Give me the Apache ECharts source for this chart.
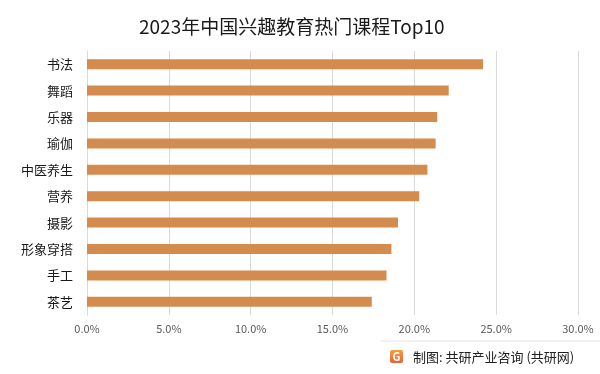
<!DOCTYPE html>
<html>
<head>
<meta charset="utf-8">
<script src="https://cdn.jsdelivr.net/npm/echarts@6/dist/echarts.min.js"></script>
<style>html,body{margin:0;padding:0;background:#fff;}#c{width:600px;height:374px;}</style>
</head>
<body>
<div id="c"></div>
<script>
var categories = ['书法','舞蹈','乐器','瑜伽','中医养生','营养','摄影','形象穿搭','手工','茶艺'];
var values = [24.2, 22.1, 21.4, 21.3, 20.8, 20.3, 19.0, 18.6, 18.3, 17.4];
var xTicks = [0, 5, 10, 15, 20, 25, 30];
var titleText = '2023年中国兴趣教育热门课程Top10';
var footerText = '制图: 共研产业咨询 (共研网)';

var FONT = '"Microsoft YaHei","Noto Sans CJK SC","Noto Sans",sans-serif';
var chart = echarts.init(document.getElementById('c'), null, {renderer: 'canvas'});
chart.setOption({
  backgroundColor: '#ffffff',
  animation: false,
  title: {
    text: titleText, left: 134, top: 12,
    textStyle: {fontFamily: FONT, fontSize: 19, fontWeight: 'normal', color: '#1a1a1a'}
  },
  grid: {left: 87, right: 22, top: 51, bottom: 59, containLabel: false},
  xAxis: {
    type: 'value', min: xTicks[0], max: xTicks[xTicks.length - 1], interval: 5,
    axisLine: {show: false}, axisTick: {show: false},
    splitLine: {show: true, lineStyle: {color: '#d9d9d9', width: 1}},
    axisLabel: {formatter: function (v) { return v.toFixed(1) + '%'; }, color: '#595959', fontSize: 11, fontFamily: FONT, margin: 8}
  },
  yAxis: {
    type: 'category', data: categories, inverse: true,
    axisLine: {show: true, lineStyle: {color: '#d9d9d9'}}, axisTick: {show: false},
    axisLabel: {color: '#1a1a1a', fontSize: 13, fontFamily: FONT, margin: 14}
  },
  series: [{
    type: 'bar', data: values, barWidth: 10,
    itemStyle: {color: '#D48B4E'}
  }],
  graphic: [
    {type: 'line', shape: {x1: 380, y1: 341, x2: 600, y2: 341}, style: {stroke: '#e6e6e6', lineWidth: 1}},
    {type: 'rect', shape: {x: 390, y: 350, width: 13, height: 13, r: 2},
      style: {fill: new echarts.graphic.LinearGradient(0, 0, 0, 1, [{offset: 0, color: '#F4A03A'}, {offset: 1, color: '#E8603A'}])}},
    {type: 'text', x: 396.5, y: 356.5, style: {text: 'G', fill: '#fff', fontSize: 11, fontWeight: 'bold', fontFamily: FONT, align: 'center', verticalAlign: 'middle'}},
    {type: 'text', x: 413, y: 357, style: {text: footerText, fill: '#222', fontSize: 13, fontFamily: FONT, verticalAlign: 'middle'}}
  ]
});
</script>
</body>
</html>
